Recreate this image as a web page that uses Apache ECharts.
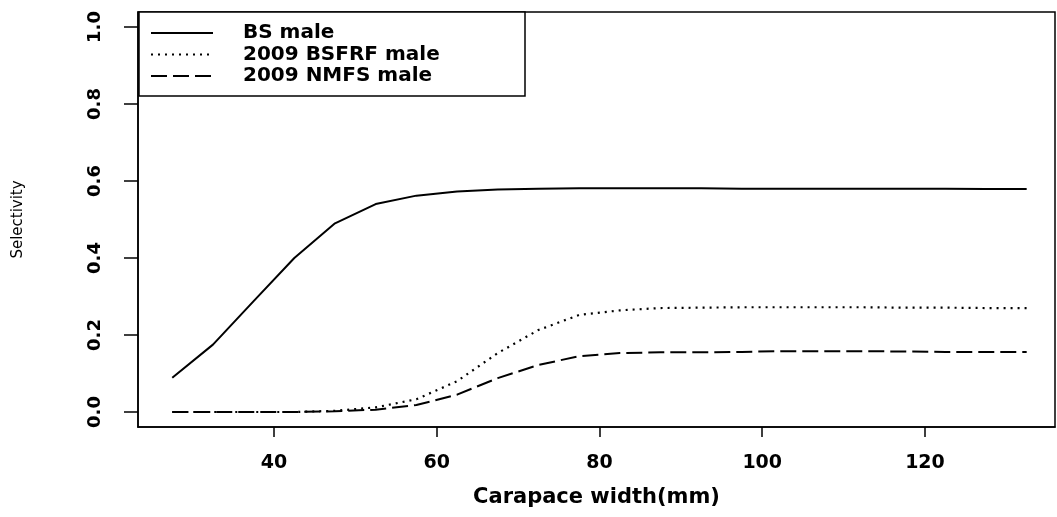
<!DOCTYPE html>
<html>
<head>
<meta charset="utf-8">
<script src="https://cdn.jsdelivr.net/npm/echarts@6/dist/echarts.min.js"></script>
<style>
html,body{margin:0;padding:0;background:#fff;}
#chart{width:1057px;height:517px;}
</style>
</head>
<body>
<div id="chart"></div>
<script>
// ---- data ----
const carapaceWidth = [27.5, 32.5, 37.5, 42.5, 47.5, 52.5, 57.5, 62.5, 67.5, 72.5, 77.5,
                       82.5, 87.5, 92.5, 97.5, 102.5, 107.5, 112.5, 117.5, 122.5, 127.5, 132.5];
const bsMale      = [0.089, 0.175, 0.288, 0.400, 0.490, 0.540, 0.562, 0.573, 0.578, 0.580, 0.581,
                     0.581, 0.581, 0.581, 0.580, 0.580, 0.580, 0.580, 0.580, 0.580, 0.579, 0.579];
const bsfrfMale   = [0.000, 0.000, 0.000, 0.000, 0.003, 0.012, 0.033, 0.080, 0.153, 0.213, 0.252,
                     0.264, 0.270, 0.271, 0.272, 0.272, 0.272, 0.272, 0.271, 0.271, 0.270, 0.270];
const nmfsMale    = [0.000, 0.000, 0.000, 0.000, 0.002, 0.006, 0.018, 0.045, 0.088, 0.122, 0.145,
                     0.153, 0.155, 0.155, 0.156, 0.158, 0.158, 0.158, 0.157, 0.156, 0.156, 0.156];
const seriesNames = ['BS male', '2009 BSFRF male', '2009 NMFS male'];
const xTicks = [40, 60, 80, 100, 120];
const yTicks = [0, 0.2, 0.4, 0.6, 0.8, 1.0];
const yTickLabels = ['0.0', '0.2', '0.4', '0.6', '0.8', '1.0'];
const xTitle = 'Carapace width(mm)';
const yTitle = 'Selectivity';

const pair = (ys) => carapaceWidth.map((x, i) => [x, ys[i]]);
const FONT = 'DejaVu Sans';

const chart = echarts.init(document.getElementById('chart'), null, {renderer: 'canvas'});
chart.setOption({
  backgroundColor: '#fff',
  animation: false,
  grid: {
    left: 138, top: 12, width: 917, height: 415,
    show: true, borderColor: '#000', borderWidth: 1.5,
    containLabel: false, outerBoundsMode: 'none'
  },
  legend: {
    left: 139, top: 12, orient: 'vertical',
    data: seriesNames,
    backgroundColor: '#fff',
    borderColor: '#000', borderWidth: 1.5, borderRadius: 0,
    padding: [11, 4, 10, 11],
    itemWidth: 62, itemHeight: 14, itemGap: 1.5,
    selectedMode: false,
    itemStyle: {opacity: 0},
    textStyle: {
      fontFamily: FONT, fontWeight: 'bold', fontSize: 20, color: '#000',
      lineHeight: 20, padding: [0, 0, 0, 25], width: 278
    }
  },
  xAxis: {
    type: 'value', min: 23.29, max: 135.98,
    name: xTitle, nameLocation: 'middle', nameGap: 60,
    nameTextStyle: {fontFamily: FONT, fontWeight: 'bold', fontSize: 21, color: '#000'},
    axisLine: {show: true, onZero: false, lineStyle: {color: '#000', width: 1.5}},
    axisTick: {show: true, length: 10, customValues: xTicks, lineStyle: {color: '#000', width: 1.5}},
    axisLabel: {show: true, customValues: xTicks, margin: 27,
      fontFamily: FONT, fontWeight: 'bold', fontSize: 19, color: '#000'},
    splitLine: {show: false}
  },
  yAxis: {
    type: 'value', min: -0.039, max: 1.039,
    name: yTitle, nameLocation: 'middle', nameGap: 112,
    nameTextStyle: {fontFamily: FONT, fontSize: 15, color: '#000'},
    axisLine: {show: true, onZero: false, lineStyle: {color: '#000', width: 1.5}},
    axisTick: {show: true, length: 14, customValues: yTicks, lineStyle: {color: '#000', width: 1.5}},
    axisLabel: {show: true, customValues: yTicks, rotate: 90, margin: 34,
      fontFamily: FONT, fontWeight: 'bold', fontSize: 18, color: '#000',
      formatter: (v) => { const i = yTicks.findIndex(t => Math.abs(t - v) < 1e-6); return i >= 0 ? yTickLabels[i] : ''; }},
    splitLine: {show: false}
  },
  series: [
    {name: seriesNames[0], type: 'line', data: pair(bsMale), symbol: 'none',
     lineStyle: {color: '#000', width: 2, type: 'solid'}, itemStyle: {color: '#000'}},
    {name: seriesNames[1], type: 'line', data: pair(bsfrfMale), symbol: 'none',
     lineStyle: {color: '#000', width: 2.2, type: [2, 5]}, itemStyle: {color: '#000'}},
    {name: seriesNames[2], type: 'line', data: pair(nmfsMale), symbol: 'none',
     lineStyle: {color: '#000', width: 2, type: [16, 6]}, itemStyle: {color: '#000'}}
  ]
});
</script>
</body>
</html>
